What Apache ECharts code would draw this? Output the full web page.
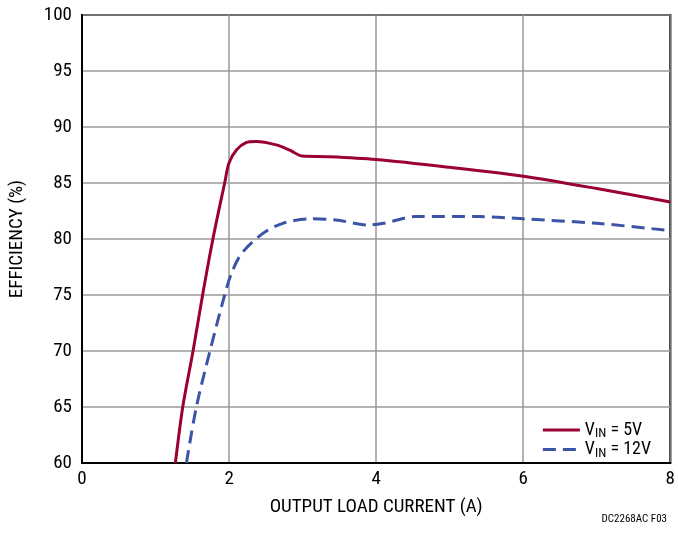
<!DOCTYPE html>
<html>
<head>
<meta charset="utf-8">
<script src="https://cdn.jsdelivr.net/npm/echarts@6/dist/echarts.min.js"></script>
<style>
  html, body { margin: 0; padding: 0; background: #fff; }
  #chart { width: 678px; height: 535px; }
</style>
</head>
<body>
<div id="chart"></div>
<script>
// efficiency vs output load current
var vin5 = [
    [1.27, 60], [1.37, 65], [1.51, 70], [1.64, 75], [1.78, 80], [1.94, 85],
    [2.0, 86.8], [2.1, 87.95], [2.23, 88.6], [2.37, 88.7], [2.64, 88.4],
    [2.82, 87.95], [3.0, 87.4], [3.36, 87.35], [4.0, 87.1], [5.0, 86.4],
    [6.0, 85.6], [7.0, 84.5], [8.0, 83.3]
];
var vin12 = [
    [1.42, 60], [1.555, 65], [1.74, 70], [1.94, 75], [2.03, 76.9], [2.17, 78.7],
    [2.46, 80.5], [2.73, 81.4], [3.09, 81.8], [3.45, 81.7], [3.9, 81.25],
    [4.1, 81.4], [4.54, 82.0], [5.4, 82.0], [6.0, 81.8], [7.0, 81.4], [8.0, 80.75]
];
var seriesNames = ['5V', '12V'];

var font = '"Liberation Sans Narrow", "Roboto Condensed", "Liberation Sans", Arial, sans-serif';

var chart = echarts.init(document.getElementById('chart'));
chart.setOption({
    animation: false,
    textStyle: { fontFamily: font },
    grid: {
        left: 82, right: 6, top: 15, bottom: 72,
        show: true, borderColor: '#000', borderWidth: 2
    },
    title: {
        text: 'DC2268AC F03',
        right: 6, bottom: 5,
        textStyle: { fontSize: 11, fontWeight: 'normal', color: '#000', fontFamily: font }
    },
    legend: {
        orient: 'vertical',
        right: 22, top: 416,
        itemWidth: 37, itemHeight: 10, itemGap: 0,
        itemStyle: { opacity: 0 },
        lineStyle: { width: 3 },
        formatter: function (name) {
            return '{n|V}{s|IN}{n| = ' + name + '}';
        },
        textStyle: {
            color: '#000',
            rich: {
                n: { fontSize: 18, fontFamily: font, color: '#000' },
                s: { fontSize: 13, fontFamily: font, color: '#000', padding: [8, 0, 0, 0] }
            }
        },
        data: seriesNames
    },
    xAxis: {
        type: 'value', min: 0, max: 8, interval: 2,
        name: 'OUTPUT LOAD CURRENT (A)', nameLocation: 'middle', nameGap: 35,
        nameTextStyle: { fontSize: 19, color: '#000', fontFamily: font },
        axisLine: { lineStyle: { color: '#000', width: 2 } },
        axisTick: { show: false },
        axisLabel: { fontSize: 19, color: '#000', margin: 7 },
        splitLine: { lineStyle: { color: '#999', width: 1.5 } }
    },
    yAxis: {
        type: 'value', min: 60, max: 100, interval: 5,
        name: 'EFFICIENCY (%)', nameLocation: 'middle', nameGap: 55,
        nameTextStyle: { fontSize: 19, color: '#000', fontFamily: font },
        axisLine: { lineStyle: { color: '#000', width: 2 } },
        axisTick: { show: false },
        axisLabel: { fontSize: 19, color: '#000', margin: 10 },
        splitLine: { lineStyle: { color: '#999', width: 1.5 } }
    },
    series: [
        {
            name: seriesNames[0], type: 'line', data: vin5, smooth: 0.3,
            symbol: 'none', color: '#9b0032',
            lineStyle: { width: 3, color: '#9b0032' }
        },
        {
            name: seriesNames[1], type: 'line', data: vin12, smooth: 0.3,
            symbol: 'none', color: '#3b54a6',
            lineStyle: { width: 3, color: '#3b54a6', type: [13, 7] }
        }
    ]
});
</script>
</body>
</html>
